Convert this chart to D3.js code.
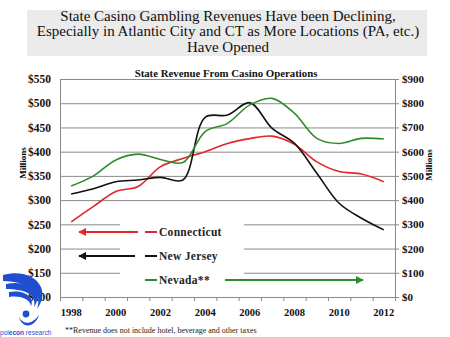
<!DOCTYPE html>
<html>
<head>
<meta charset="utf-8">
<script src="https://cdn.jsdelivr.net/npm/d3@7"></script>
<style>
  html, body { margin: 0; padding: 0; background: #fff; }
  svg { display: block; }
</style>
</head>
<body>
<svg id="chart" width="450" height="337"></svg>
<script>
// Annual state casino revenue, $ millions
const years = [1998, 1999, 2000, 2001, 2002, 2003, 2004, 2005, 2006, 2007, 2008, 2009, 2010, 2011, 2012];
const connecticut = [255, 287, 318, 328, 369, 386, 400, 417, 427, 432, 415, 379, 359, 354, 338];   // left axis
const newJersey   = [425, 447, 476, 483, 494, 483, 742, 751, 802, 696, 634, 511, 387, 325, 277];   // right axis
const nevada      = [458, 500, 566, 590, 568, 555, 683, 717, 793, 820, 758, 655, 634, 655, 652];   // right axis

const leftTicks  = [100, 150, 200, 250, 300, 350, 400, 450, 500, 550];
const rightTicks = [0, 100, 200, 300, 400, 500, 600, 700, 800, 900];
const yearLabels = [1998, 2000, 2002, 2004, 2006, 2008, 2010, 2012];

const headline = [
  "State Casino Gambling Revenues Have been Declining,",
  "Especially in Atlantic City and CT as More Locations (PA, etc.)",
  "Have Opened"
];
const chartTitle = "State Revenue From Casino Operations";
const footnote = "**Revenue does not include hotel, beverage and other taxes";

const series = [
  { name: "Connecticut", values: connecticut, axis: "left",  color: "#e3262b" },
  { name: "New Jersey",  values: newJersey,   axis: "right", color: "#111111" },
  { name: "Nevada**",    values: nevada,      axis: "right", color: "#2e8b2e" }
];

const SERIF = "Liberation Serif";
const svg = d3.select("#chart").attr("font-family", SERIF);
const plot = { left: 60, right: 395, top: 79, bottom: 297 };

// Headline banner
svg.append("rect").attr("x", 27).attr("y", 10).attr("width", 400).attr("height", 46)
  .attr("fill", "#ebebeb");
svg.append("g").selectAll("text").data(headline).join("text")
  .attr("x", 228).attr("y", (d, i) => 20.5 + i * 15.5)
  .attr("text-anchor", "middle").attr("font-family", SERIF).attr("font-size", 15).attr("fill", "#111")
  .text(d => d);

// Scales
const x = d3.scaleBand().domain(years).range([plot.left, plot.right]);
const xEdge = d3.scaleLinear().domain([years[0] - 0.5, years[years.length - 1] + 0.5]).range([plot.left, plot.right]);
const yL = d3.scaleLinear().domain([100, 550]).range([plot.bottom, plot.top]);
const yR = d3.scaleLinear().domain([0, 900]).range([plot.bottom, plot.top]);
const cx = yr => x(yr) + x.bandwidth() / 2;

function styleTicks(g, size) {
  g.attr("font-family", SERIF);
  g.selectAll("text").attr("font-family", SERIF).attr("font-weight", "bold")
    .attr("font-size", size).attr("fill", "#111");
}

// Gridlines
svg.append("g")
  .attr("transform", `translate(${plot.left},0)`)
  .call(d3.axisLeft(yL).tickValues(leftTicks.slice(1)).tickSize(-(plot.right - plot.left)).tickFormat(""))
  .call(g => g.select(".domain").remove())
  .call(g => g.selectAll("line").attr("stroke", "#8a8a8a"));

// Left axis
const gL = svg.append("g").attr("transform", `translate(${plot.left},0)`)
  .call(d3.axisLeft(yL).tickValues(leftTicks).tickSize(0).tickPadding(9).tickFormat(d => "$" + d));
gL.select(".domain").attr("stroke", "#8a8a8a");
styleTicks(gL, 11.5);

// Right axis
const gR = svg.append("g").attr("transform", `translate(${plot.right},0)`)
  .call(d3.axisRight(yR).tickValues(rightTicks).tickSize(4).tickPadding(3).tickFormat(d => "$" + d));
gR.select(".domain").attr("stroke", "#8a8a8a");
gR.selectAll("line").attr("stroke", "#8a8a8a");
styleTicks(gR, 11);

// Bottom axis: tick marks at category edges, labels at centers
const edges = d3.range(years[0] - 0.5, years[years.length - 1] + 1, 1);
const gB = svg.append("g").attr("transform", `translate(0,${plot.bottom})`)
  .call(d3.axisBottom(xEdge).tickValues(edges).tickSize(4).tickFormat(""));
gB.select(".domain").attr("stroke", "#8a8a8a");
gB.selectAll("line").attr("stroke", "#8a8a8a");
const gBL = svg.append("g").attr("transform", `translate(0,${plot.bottom})`)
  .call(d3.axisBottom(x).tickValues(yearLabels).tickSize(0).tickPadding(12));
gBL.select(".domain").remove();
styleTicks(gBL, 10.5);

// Axis titles
svg.append("text").attr("transform", "translate(26,163) rotate(-90)").attr("font-family", SERIF)
  .attr("text-anchor", "middle").attr("font-size", 9).attr("font-weight", "bold").text("Millions");
svg.append("text").attr("transform", "translate(432,165) rotate(-90)").attr("font-family", SERIF)
  .attr("text-anchor", "middle").attr("font-size", 9).attr("font-weight", "bold").text("Millions");

// Chart title
svg.append("text").attr("x", 226).attr("y", 77).attr("text-anchor", "middle").attr("font-family", SERIF)
  .attr("font-size", 10.8).attr("font-weight", "bold").attr("fill", "#111").text(chartTitle);

// Legend panel (covers gridlines behind it)
svg.append("rect").attr("x", 120).attr("y", 212).attr("width", 124).attr("height", 78).attr("fill", "#fff");

// Series lines
series.forEach(s => {
  const yS = s.axis === "left" ? yL : yR;
  const line = d3.line().x((d, i) => cx(years[i])).y(d => yS(d)).curve(d3.curveCatmullRom.alpha(0.5));
  svg.append("path").datum(s.values).attr("d", line)
    .attr("fill", "none").attr("stroke", s.color).attr("stroke-width", 1.6);
});

// Arrow markers
const defs = svg.append("defs");
series.forEach((s, i) => {
  defs.append("marker").attr("id", "arrow" + i)
    .attr("viewBox", "0 0 10 10").attr("refX", 9).attr("refY", 5)
    .attr("markerWidth", 4).attr("markerHeight", 4).attr("orient", "auto")
    .append("path").attr("d", "M0,0 L10,5 L0,10 Z").attr("fill", s.color);
});

// Legend entries with direction arrows
const legendRows = [
  { y: 232, arrow: [138, 79] },
  { y: 256, arrow: [135, 79] },
  { y: 280, arrow: [225, 363] }
];
series.forEach((s, i) => {
  const r = legendRows[i];
  svg.append("line").attr("x1", 145).attr("x2", 157).attr("y1", r.y).attr("y2", r.y)
    .attr("stroke", s.color).attr("stroke-width", 2);
  svg.append("text").attr("x", 159).attr("y", r.y + 4).attr("font-family", SERIF).attr("font-size", 11.5)
    .attr("font-weight", "bold").attr("letter-spacing", 0.3).attr("fill", "#222").text(s.name);
  svg.append("line").attr("x1", r.arrow[0]).attr("x2", r.arrow[1]).attr("y1", r.y).attr("y2", r.y)
    .attr("stroke", s.color).attr("stroke-width", 2).attr("marker-end", `url(#arrow${i})`);
});

// Footnote
svg.append("text").attr("x", 65).attr("y", 333).attr("font-family", SERIF)
  .attr("font-size", 8).attr("fill", "#222").text(footnote);

// Logo: three nested swooshes, a dot and a smile
const logo = svg.append("g").attr("fill", "#1f4fd0");
logo.append("path").attr("d", "M3,275 C32,267 53,288 37,309 C43,292 30,282 3,281 Z");
logo.append("path").attr("d", "M6,284 C29,279 45,293 34,307 C37,295 26,289 6,289 Z");
logo.append("path").attr("d", "M9,292 C25,289 35,298 31,306 C30,300 22,295 9,297 Z");
logo.append("circle").attr("cx", 26).attr("cy", 314).attr("r", 3.4);
logo.append("path").attr("d", "M19,317 C23,325 32,325 39,315 C35,328 22,329 19,317 Z");
const lt = svg.append("g").attr("transform", "translate(0,335) scale(0.82,1)")
  .append("text").attr("x", 0).attr("y", 0)
  .attr("font-family", "Liberation Sans").attr("font-size", 8).attr("fill", "#1f4fd0");
lt.append("tspan").text("pol");
lt.append("tspan").attr("font-weight", "bold").text("econ");
lt.append("tspan").text(" research");
</script>
</body>
</html>
